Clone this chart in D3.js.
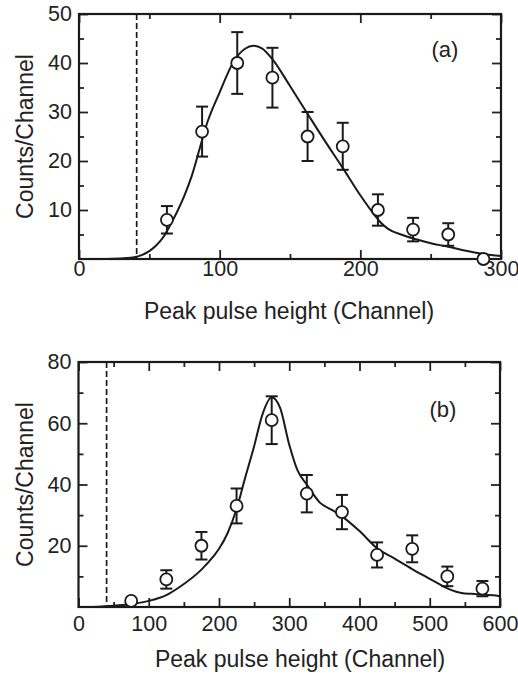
<!DOCTYPE html>
<html>
<head>
<meta charset="utf-8">
<script src="https://cdn.jsdelivr.net/npm/d3@7"></script>
<style>
	body { margin: 0; background: #fff; }
	svg { font-family: "Liberation Sans", Arial, Helvetica, sans-serif; }
	.tick text { font-size: 21.5px; fill: #222; }
	.tick line { stroke: #222; stroke-width: 1.8; }
	.domain { display: none; }
</style>
</head>
<body>
<div id="chart"></div>
<script>
// panel (a) - measured points
const aChannel = [62.5, 87.5, 112.5, 137.5, 162.5, 187.5, 212.5, 237.5, 262.5, 287.5];
const aCounts = [8, 26, 40, 37, 25, 23, 10, 6, 5, 0];
const aErr = [2.8, 5.1, 6.3, 6.1, 5, 4.8, 3.2, 2.4, 2.3, 0];
// panel (a) - fitted curve
const aFitX = [0, 20, 30, 40, 50, 55, 60, 65, 70, 75, 80, 87.5, 90, 100, 110, 118, 124, 130, 138, 150, 163, 175, 187.5, 200, 210, 215, 220, 230, 240, 250, 262.5, 275, 287.5, 300];
const aFitY = [0, 0, 0.1, 0.4, 1.6, 2.8, 4.5, 7, 9.8, 13, 16.8, 24.3, 26.8, 34, 40.3, 42.9, 43.5, 43, 40.6, 35.3, 29.4, 24, 18.6, 13, 9, 7.3, 6.1, 4.9, 4, 3.2, 2.5, 1.7, 1, 0.6];
const aThreshold = 41;
const aXTicks = [0, 100, 200, 300];
const aYTicks = [10, 20, 30, 40, 50];

// panel (b) - measured points
const bChannel = [75, 125, 175, 225, 275, 325, 375, 425, 475, 525, 575];
const bCounts = [2, 9, 20, 33, 61, 37, 31, 17, 19, 10, 6];
const bErr = [0, 3, 4.5, 5.7, 7.8, 6.1, 5.6, 4.1, 4.4, 3.2, 2.5];
// panel (b) - fitted curve
const bFitX = [20, 50, 75, 100, 125, 145, 175, 192, 200, 212, 225, 237, 250, 262, 275, 287, 300, 312, 325, 344, 360, 375, 400, 425, 450, 475, 500, 515, 530, 545, 560, 575, 590, 600];
const bFitY = [0, 0.4, 1, 2, 3.9, 6.7, 12.2, 16.5, 19, 24, 32, 42, 52.5, 63, 68.5, 65, 53, 44.5, 40, 34, 31.8, 29.6, 24.8, 19.2, 15.8, 12.4, 9.2, 7.3, 5.6, 4.6, 4.3, 4.1, 3.8, 3.5];
const bThreshold = 40;
const bXTicks = [0, 100, 200, 300, 400, 500, 600];
const bYTicks = [20, 40, 60, 80];

const xTitle = "Peak pulse height (Channel)";
const yTitle = "Counts/Channel";

const svg = d3.select("#chart")
	.append("svg")
	.attr("width", 518)
	.attr("height", 674);

function drawPanel(p) {
	const g = svg.append("g");
	const x = d3.scaleLinear().domain(p.xDomain).range([p.left, p.right]);
	const y = d3.scaleLinear().domain(p.yDomain).range([p.bottom, p.top]);

	const xMinor = d3.range(p.xDomain[0], p.xDomain[1] + 1, p.xStep / 2).filter((v) => v % p.xStep !== 0);
	const yMinor = d3.range(p.yDomain[0], p.yDomain[1] + 1, p.yStep / 2).filter((v) => v % p.yStep !== 0);
	const xMajor = d3.range(p.xDomain[0], p.xDomain[1] + 1, p.xStep);
	const yMajor = d3.range(p.yDomain[0] + p.yStep, p.yDomain[1] + 1, p.yStep);

	// inward ticks on all four sides
	const sides = [
		[() => d3.axisBottom(x), "translate(0," + p.bottom + ")", xMinor, xMajor],
		[() => d3.axisTop(x), "translate(0," + p.top + ")", xMinor, xMajor],
		[() => d3.axisLeft(y), "translate(" + p.left + ",0)", yMinor, yMajor],
		[() => d3.axisRight(y), "translate(" + p.right + ",0)", yMinor, yMajor]
	];
	sides.forEach(([axis, tr, minor, major]) => {
		g.append("g").attr("transform", tr)
			.call(axis().tickValues(minor).tickSize(-5).tickFormat(""));
		g.append("g").attr("transform", tr)
			.call(axis().tickValues(major).tickSize(-9).tickFormat(""));
	});

	// tick labels
	g.append("g")
		.attr("transform", "translate(0," + p.bottom + ")")
		.call(d3.axisBottom(x).tickValues(p.xTicks).tickSize(0).tickPadding(p.xPad))
		.selectAll("line").remove();
	g.append("g")
		.attr("transform", "translate(" + p.left + ",0)")
		.call(d3.axisLeft(y).tickValues(p.yTicks).tickSize(0).tickPadding(7))
		.selectAll("line").remove();

	// frame
	g.append("rect")
		.attr("x", p.left)
		.attr("y", p.top)
		.attr("width", p.right - p.left)
		.attr("height", p.bottom - p.top)
		.attr("fill", "none")
		.attr("stroke", "#1a1a1a")
		.attr("stroke-width", 2.2);

	// threshold
	g.append("line")
		.attr("x1", x(p.threshold)).attr("x2", x(p.threshold))
		.attr("y1", p.top).attr("y2", p.bottom)
		.attr("stroke", "#1a1a1a")
		.attr("stroke-width", 1.7)
		.attr("stroke-dasharray", "6,3");

	// fit
	const fit = p.fitX.map((v, i) => [v, p.fitY[i]]);
	g.append("path")
		.datum(fit)
		.attr("fill", "none")
		.attr("stroke", "#1a1a1a")
		.attr("stroke-width", 2)
		.attr("d", d3.line().x((d) => x(d[0])).y((d) => y(d[1])).curve(d3.curveMonotoneX));

	const pts = p.channel.map((v, i) => ({ c: v, n: p.counts[i], e: p.err[i] }));
	const bars = g.append("g").selectAll("g")
		.data(pts.filter((d) => d.e > 0))
		.enter()
		.append("g")
		.attr("stroke", "#1a1a1a")
		.attr("stroke-width", 2);
	bars.append("line")
		.attr("x1", (d) => x(d.c)).attr("x2", (d) => x(d.c))
		.attr("y1", (d) => y(d.n - d.e)).attr("y2", (d) => y(d.n + d.e));
	[-1, 1].forEach((s) => {
		bars.append("line")
			.attr("x1", (d) => x(d.c) - 6).attr("x2", (d) => x(d.c) + 6)
			.attr("y1", (d) => y(d.n + s * d.e)).attr("y2", (d) => y(d.n + s * d.e));
	});

	g.append("g").selectAll("circle")
		.data(pts)
		.enter()
		.append("circle")
		.attr("cx", (d) => x(d.c))
		.attr("cy", (d) => y(d.n))
		.attr("r", 6)
		.attr("fill", "#fff")
		.attr("stroke", "#1a1a1a")
		.attr("stroke-width", 1.8);

	g.append("text")
		.attr("x", p.labelX)
		.attr("y", p.labelY)
		.attr("text-anchor", "middle")
		.attr("font-size", 22)
		.attr("fill", "#222")
		.text(p.label);

	g.append("text")
		.attr("x", p.xTitleX)
		.attr("y", p.xTitleY)
		.attr("text-anchor", "middle")
		.attr("font-size", 23)
		.attr("fill", "#222")
		.text(xTitle);

	g.append("text")
		.attr("transform", "translate(33," + (p.top + p.bottom) / 2 + ") rotate(-90)")
		.attr("text-anchor", "middle")
		.attr("font-size", 23)
		.attr("fill", "#222")
		.text(yTitle);
}

drawPanel({
	left: 79, right: 501, top: 14, bottom: 259,
	xDomain: [0, 300], yDomain: [0, 50], xStep: 100, yStep: 10,
	xTicks: aXTicks, yTicks: aYTicks, xPad: 2,
	channel: aChannel, counts: aCounts, err: aErr,
	fitX: aFitX, fitY: aFitY, threshold: aThreshold,
	label: "(a)", labelX: 445, labelY: 57,
	xTitleX: 289, xTitleY: 319
});

drawPanel({
	left: 78.5, right: 500, top: 362, bottom: 607,
	xDomain: [0, 600], yDomain: [0, 80], xStep: 100, yStep: 20,
	xTicks: bXTicks, yTicks: bYTicks, xPad: 9,
	channel: bChannel, counts: bCounts, err: bErr,
	fitX: bFitX, fitY: bFitY, threshold: bThreshold,
	label: "(b)", labelX: 443, labelY: 417,
	xTitleX: 300, xTitleY: 667
});
</script>
</body>
</html>
